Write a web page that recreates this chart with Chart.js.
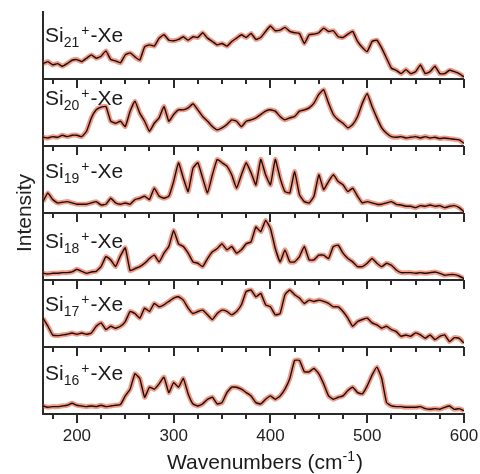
<!DOCTYPE html>
<html>
<head>
<meta charset="utf-8">
<script src="https://cdn.jsdelivr.net/npm/chart.js@4.4.1/dist/chart.umd.min.js"></script>
<style>
  html, body { margin: 0; padding: 0; background: #fff; }
</style>
</head>
<body>
<canvas id="chart" width="480" height="474"></canvas>
<script>
// wavenumber grid (cm-1), shared by every spectrum
const wavenumbers = [
  165, 170, 175, 180, 185, 190, 195, 200, 205, 210,
  215, 220, 225, 230, 235, 240, 245, 250, 255, 260,
  265, 270, 275, 280, 285, 290, 295, 300, 305, 310,
  315, 320, 325, 330, 335, 340, 345, 350, 355, 360,
  365, 370, 375, 380, 385, 390, 395, 400, 405, 410,
  415, 420, 425, 430, 435, 440, 445, 450, 455, 460,
  465, 470, 475, 480, 485, 490, 495, 500, 505, 510,
  515, 520, 525, 530, 535, 540, 545, 550, 555, 560,
  565, 570, 575, 580, 585, 590, 595, 600
];

// normalised intensities, one array per cluster
const si16 = [
  0.12, 0.10, 0.11, 0.11, 0.12, 0.13, 0.16, 0.13, 0.12, 0.11,
  0.12, 0.11, 0.13, 0.11, 0.12, 0.13, 0.14, 0.27, 0.37, 0.60,
  0.53, 0.25, 0.40, 0.37, 0.45, 0.55, 0.32, 0.47, 0.40, 0.53,
  0.30, 0.15, 0.12, 0.15, 0.22, 0.25, 0.15, 0.17, 0.32, 0.40,
  0.40, 0.37, 0.32, 0.27, 0.17, 0.15, 0.22, 0.27, 0.22, 0.27,
  0.37, 0.53, 0.80, 0.80, 0.63, 0.63, 0.68, 0.60, 0.45, 0.27,
  0.22, 0.25, 0.27, 0.35, 0.40, 0.32, 0.30, 0.42, 0.58, 0.70,
  0.53, 0.17, 0.12, 0.11, 0.11, 0.10, 0.10, 0.10, 0.11, 0.08,
  0.07, 0.08, 0.07, 0.10, 0.12, 0.07, 0.08, 0.05
];
const si17 = [
  0.43, 0.31, 0.18, 0.17, 0.18, 0.19, 0.21, 0.19, 0.21, 0.19,
  0.21, 0.31, 0.36, 0.26, 0.31, 0.28, 0.31, 0.38, 0.53, 0.50,
  0.43, 0.58, 0.53, 0.65, 0.60, 0.63, 0.68, 0.73, 0.75, 0.70,
  0.58, 0.50, 0.53, 0.55, 0.48, 0.41, 0.50, 0.55, 0.53, 0.48,
  0.53, 0.63, 0.83, 0.85, 0.75, 0.80, 0.63, 0.60, 0.48, 0.50,
  0.78, 0.85, 0.78, 0.73, 0.65, 0.70, 0.68, 0.70, 0.68, 0.65,
  0.60, 0.60, 0.53, 0.43, 0.31, 0.38, 0.41, 0.43, 0.36, 0.33,
  0.28, 0.31, 0.26, 0.23, 0.16, 0.18, 0.16, 0.21, 0.18, 0.13,
  0.18, 0.11, 0.16, 0.18, 0.08, 0.14, 0.13, 0.06
];
const si18 = [
  0.10, 0.09, 0.10, 0.10, 0.11, 0.11, 0.12, 0.16, 0.13, 0.10,
  0.12, 0.13, 0.20, 0.35, 0.30, 0.20, 0.36, 0.48, 0.14, 0.17,
  0.20, 0.25, 0.32, 0.37, 0.27, 0.40, 0.50, 0.74, 0.54, 0.50,
  0.40, 0.27, 0.25, 0.20, 0.32, 0.42, 0.47, 0.54, 0.45, 0.50,
  0.40, 0.45, 0.54, 0.57, 0.79, 0.72, 0.89, 0.77, 0.47, 0.27,
  0.45, 0.27, 0.27, 0.35, 0.50, 0.30, 0.30, 0.37, 0.37, 0.32,
  0.50, 0.52, 0.40, 0.32, 0.27, 0.20, 0.20, 0.25, 0.32, 0.25,
  0.20, 0.25, 0.22, 0.15, 0.11, 0.11, 0.11, 0.10, 0.11, 0.10,
  0.11, 0.12, 0.10, 0.07, 0.08, 0.08, 0.06, 0.02
];
const si19 = [
  0.17, 0.30, 0.20, 0.15, 0.16, 0.17, 0.15, 0.13, 0.13, 0.13,
  0.15, 0.17, 0.12, 0.13, 0.22, 0.15, 0.13, 0.15, 0.13, 0.20,
  0.22, 0.25, 0.20, 0.37, 0.25, 0.22, 0.25, 0.47, 0.75, 0.52,
  0.32, 0.67, 0.75, 0.52, 0.30, 0.57, 0.80, 0.75, 0.70, 0.57,
  0.37, 0.57, 0.75, 0.60, 0.42, 0.80, 0.57, 0.42, 0.80, 0.52,
  0.32, 0.30, 0.62, 0.27, 0.17, 0.15, 0.25, 0.57, 0.35, 0.47,
  0.57, 0.47, 0.42, 0.32, 0.37, 0.25, 0.15, 0.17, 0.15, 0.13,
  0.13, 0.15, 0.17, 0.13, 0.12, 0.10, 0.10, 0.08, 0.11, 0.10,
  0.12, 0.10, 0.11, 0.08, 0.10, 0.11, 0.08, 0.02
];
const si20 = [
  0.13, 0.12, 0.14, 0.13, 0.16, 0.14, 0.16, 0.16, 0.14, 0.22,
  0.42, 0.54, 0.58, 0.59, 0.37, 0.34, 0.37, 0.29, 0.52, 0.67,
  0.49, 0.37, 0.22, 0.34, 0.42, 0.59, 0.37, 0.47, 0.54, 0.54,
  0.57, 0.63, 0.54, 0.44, 0.37, 0.29, 0.24, 0.27, 0.32, 0.39,
  0.37, 0.29, 0.37, 0.39, 0.42, 0.47, 0.52, 0.54, 0.52, 0.44,
  0.39, 0.42, 0.44, 0.52, 0.54, 0.57, 0.64, 0.77, 0.84, 0.64,
  0.47, 0.39, 0.34, 0.27, 0.32, 0.44, 0.64, 0.78, 0.59, 0.42,
  0.27, 0.19, 0.14, 0.13, 0.14, 0.12, 0.13, 0.14, 0.12, 0.14,
  0.12, 0.13, 0.11, 0.12, 0.11, 0.10, 0.09, 0.04
];
const si21 = [
  0.23, 0.26, 0.21, 0.23, 0.19, 0.23, 0.28, 0.29, 0.26, 0.31,
  0.36, 0.31, 0.34, 0.42, 0.29, 0.27, 0.24, 0.36, 0.39, 0.33,
  0.28, 0.48, 0.51, 0.49, 0.61, 0.66, 0.58, 0.57, 0.59, 0.63,
  0.58, 0.63, 0.62, 0.69, 0.61, 0.56, 0.51, 0.53, 0.49, 0.56,
  0.61, 0.66, 0.62, 0.68, 0.59, 0.62, 0.71, 0.79, 0.72, 0.73,
  0.77, 0.71, 0.69, 0.68, 0.53, 0.66, 0.67, 0.69, 0.76, 0.71,
  0.72, 0.63, 0.62, 0.67, 0.71, 0.56, 0.47, 0.41, 0.56, 0.58,
  0.46, 0.31, 0.16, 0.13, 0.08, 0.14, 0.08, 0.11, 0.21, 0.08,
  0.11, 0.19, 0.08, 0.08, 0.13, 0.11, 0.08, 0.03
];

// bottom panel first
const clusterSizes = ['16', '17', '18', '19', '20', '21'];
const spectra = [si16, si17, si18, si19, si20, si21];

const FONT = '"Liberation Sans", Arial, Helvetica, sans-serif';
const AXIS = '#2a2a2a';

const scales = {
    x: {
        type: 'linear',
        min: 165,
        max: 600,
        ticks: {
            stepSize: 25,
            autoSkip: false,
            maxRotation: 0,
            padding: 12,
            color: '#222',
            font: { family: FONT, size: 17 },
            callback: v => (v % 100 === 0 ? String(v) : '')
        },
        grid: { display: false, drawTicks: false },
        border: { display: true, color: AXIS, width: 2 },
        // fixed height, and let the "600" label hang past the plot edge
        afterFit: s => { s.height = 60; s.paddingRight = 0; s.paddingLeft = 0; }
    }
};

const datasets = [];
spectra.forEach((vals, k) => {
    const id = 'y' + k;
    // each panel gets its own axis, shifted so that 0..1 fills one sixth of the plot
    scales[id] = {
        type: 'linear',
        min: -k,
        max: spectra.length - k,
        display: k === 0,
        ticks: { display: false },
        grid: { display: false, drawTicks: false },
        border: { display: true, color: AXIS, width: 2 }
    };
    const points = wavenumbers.map((w, i) => ({ x: w, y: vals[i] }));
    datasets.push({
        label: 'Si' + clusterSizes[k] + ' fit',
        data: points,
        yAxisID: id,
        borderColor: '#1c0c07',
        borderWidth: 1.4,
        pointRadius: 0,
        tension: 0.12,
        order: 0
    });
    datasets.push({
        label: 'Si' + clusterSizes[k] + ' data',
        data: points,
        yAxisID: id,
        borderColor: 'rgba(228, 72, 38, 0.55)',
        borderWidth: 5,
        pointRadius: 0,
        tension: 0.12,
        order: 1
    });
});

// only the bottom panel's axis is drawn: it carries the left line and the title
Object.assign(scales.y0, {
    title: {
        display: true,
        text: 'Intensity',
        color: '#222',
        font: { family: FONT, size: 21 },
        padding: { top: 13, bottom: 0 }
    },
    afterFit: s => { s.width = 43; }
});

// baseline of each panel label, measured from the panel top (bottom panel first)
const labelBaseline = [33, 31, 35, 32, 26, 30];

const panelDecor = {
    id: 'panelDecor',
    afterDraw(chart) {
        const { ctx, chartArea, scales } = chart;
        const x = scales.x;
        ctx.save();
        ctx.strokeStyle = AXIS;
        ctx.lineWidth = 2;

        // separators between panels
        for (let k = 1; k < spectra.length; k++) {
            const y = Math.round(scales['y' + k].getPixelForValue(0));
            ctx.beginPath();
            ctx.moveTo(chartArea.left, y);
            ctx.lineTo(chartArea.right, y);
            ctx.stroke();
        }

        // downward ticks under every panel
        for (let k = 0; k < spectra.length; k++) {
            const y = Math.round(scales['y' + k].getPixelForValue(0));
            for (let v = Math.ceil(x.min / 25) * 25; v <= x.max; v += 25) {
                const px = Math.round(x.getPixelForValue(v));
                const len = v % 100 === 0 ? 9 : 5;
                ctx.beginPath();
                ctx.moveTo(px, y);
                ctx.lineTo(px, y + len);
                ctx.stroke();
            }
        }

        // panel labels  Si_n^+-Xe
        ctx.fillStyle = '#1a1a1a';
        ctx.textBaseline = 'alphabetic';
        ctx.textAlign = 'left';
        for (let k = 0; k < spectra.length; k++) {
            const top = scales['y' + k].getPixelForValue(1);
            const base = top + labelBaseline[k];
            let lx = chartArea.left + 2;
            ctx.font = '21px ' + FONT;
            ctx.fillText('Si', lx, base);
            lx += ctx.measureText('Si').width;
            ctx.font = '14px ' + FONT;
            ctx.fillText(clusterSizes[k], lx, base + 5);
            lx += ctx.measureText(clusterSizes[k]).width + 2;
            ctx.fillText('+', lx, base - 7);
            lx += ctx.measureText('+').width + 1;
            ctx.font = '21px ' + FONT;
            ctx.fillText('-Xe', lx, base);
        }

        // x axis title with superscript
        const main = 'Wavenumbers (cm';
        const sup = '-1';
        ctx.font = '21px ' + FONT;
        const wMain = ctx.measureText(main).width;
        const wClose = ctx.measureText(')').width;
        ctx.font = '14px ' + FONT;
        const wSup = ctx.measureText(sup).width;
        let tx = 265 - (wMain + wSup + wClose + 1) / 2;
        const ty = 469;
        ctx.font = '21px ' + FONT;
        ctx.fillText(main, tx, ty);
        tx += wMain;
        ctx.font = '14px ' + FONT;
        ctx.fillText(sup, tx, ty - 8);
        tx += wSup + 1;
        ctx.font = '21px ' + FONT;
        ctx.fillText(')', tx, ty);
        ctx.restore();
    }
};

new Chart(document.getElementById('chart'), {
    type: 'line',
    data: { datasets },
    options: {
        responsive: false,
        animation: false,
        devicePixelRatio: 1,
        layout: { padding: { top: 12, right: 16, left: 0, bottom: 0 } },
        plugins: { legend: { display: false }, tooltip: { enabled: false } },
        scales
    },
    plugins: [panelDecor]
});
</script>
</body>
</html>
